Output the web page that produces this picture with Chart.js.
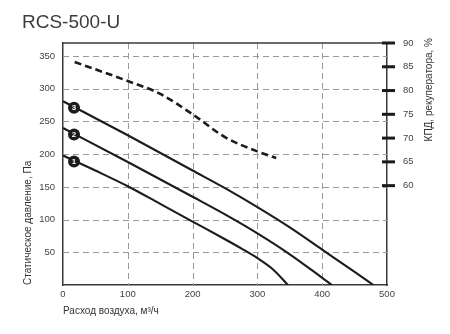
<!DOCTYPE html>
<html>
<head>
<meta charset="utf-8">
<script src="https://cdn.jsdelivr.net/npm/chart.js@4.4.1/dist/chart.umd.min.js"></script>
<style>
  html, body { margin: 0; padding: 0; background: #fff; }
</style>
</head>
<body>
<canvas id="chart" width="450" height="334"></canvas>
<script>
// Fan curves, RCS-500-U
const chartTitle = 'RCS-500-U';

const curve1Flow = [0, 50, 100, 150, 200, 250, 275, 300, 325, 347];
const curve1Pressure = [198, 175, 151, 124, 97, 70, 56, 41, 23, 0];
const curve2Flow = [0, 100, 200, 250, 300, 350, 400, 415];
const curve2Pressure = [240, 188, 135, 108, 79, 47, 11, 0];
const curve3Flow = [0, 100, 200, 250, 300, 350, 400, 450, 479];
const curve3Pressure = [281, 229, 175, 148, 119, 88, 54, 20, 0];

// recuperator efficiency, %
const efficiencyFlow = [18, 100, 150, 200, 250, 300, 329];
const efficiencyPct = [86, 82, 79.3, 75, 70.2, 67.2, 65.8];

// numbered markers on the curves
const curveNames = ['1', '2', '3'];
const markerFlow = [17, 17, 17];
const markerPressure = [189, 230, 271];

const flowTicks = [0, 100, 200, 300, 400, 500];
const pressureTicks = [0, 50, 100, 150, 200, 250, 300, 350];
const efficiencyTicks = [60, 65, 70, 75, 80, 85, 90];

const FONT = '"Liberation Sans", Arial, sans-serif';
const INK = '#1c1c1c';
const FRAME = '#3a3a3a';
const GRID = '#9a9a9a';

const toPoints = (xs, ys) => xs.map((x, i) => ({ x: x, y: ys[i] }));

const curveStyle = {
    borderColor: INK,
    borderWidth: 2.1,
    pointRadius: 0,
    fill: false,
    cubicInterpolationMode: 'monotone',
    order: 1
};

// dashed grid, drawn under the curves
const dashedGrid = {
    id: 'dashedGrid',
    beforeDatasetsDraw(chart) {
        const { ctx, chartArea: a, scales } = chart;
        ctx.save();
        ctx.strokeStyle = GRID;
        ctx.lineWidth = 1;
        ctx.setLineDash([6, 4]);
        scales.x.ticks.forEach(t => {
            if (t.value === 0 || t.value === 500) return;
            const x = Math.round(scales.x.getPixelForValue(t.value)) + 0.5;
            ctx.beginPath();
            ctx.moveTo(x, a.top);
            ctx.lineTo(x, a.bottom);
            ctx.stroke();
        });
        scales.y.ticks.forEach(t => {
            if (t.value === 0) return;
            const y = Math.round(scales.y.getPixelForValue(t.value)) + 0.5;
            ctx.beginPath();
            ctx.moveTo(a.left, y);
            ctx.lineTo(a.right, y);
            ctx.stroke();
        });
        ctx.restore();
    }
};

const decorations = {
    id: 'decorations',
    afterDraw(chart) {
        const { ctx, chartArea: a, scales } = chart;
        ctx.save();

        // top edge of the frame
        ctx.strokeStyle = FRAME;
        ctx.lineWidth = 1.5;
        ctx.beginPath();
        ctx.moveTo(a.left, a.top);
        ctx.lineTo(a.right, a.top);
        ctx.stroke();

        // thick marks on the efficiency axis
        ctx.fillStyle = INK;
        scales.y2.ticks.forEach(t => {
            const y = scales.y2.getPixelForValue(t.value);
            ctx.fillRect(a.right - 5, y - 1.5, 13, 3);
        });

        // numbers inside the markers
        const meta = chart.getDatasetMeta(4);
        ctx.fillStyle = '#fff';
        ctx.font = 'bold 8px ' + FONT;
        ctx.textAlign = 'center';
        ctx.textBaseline = 'middle';
        meta.data.forEach((p, i) => ctx.fillText(curveNames[i], p.x, p.y + 0.5));

        // title
        ctx.fillStyle = '#3c3c3c';
        ctx.font = '19px ' + FONT;
        ctx.textAlign = 'left';
        ctx.textBaseline = 'alphabetic';
        ctx.fillText(chartTitle, 22, 28);

        // right axis title, reads bottom to top
        ctx.fillStyle = '#333';
        ctx.font = '10px ' + FONT;
        ctx.translate(429, 38);
        ctx.rotate(-Math.PI / 2);
        ctx.textAlign = 'right';
        ctx.textBaseline = 'middle';
        ctx.fillText('КПД, рекуператора, %', 0, 0);

        ctx.restore();
    }
};

const ctx = document.getElementById('chart').getContext('2d');
new Chart(ctx, {
    type: 'line',
    data: {
        datasets: [
            Object.assign({ data: toPoints(curve1Flow, curve1Pressure) }, curveStyle),
            Object.assign({ data: toPoints(curve2Flow, curve2Pressure) }, curveStyle),
            Object.assign({ data: toPoints(curve3Flow, curve3Pressure) }, curveStyle),
            Object.assign({}, curveStyle, {
                data: toPoints(efficiencyFlow, efficiencyPct),
                yAxisID: 'y2',
                borderWidth: 2.6,
                borderDash: [7, 4]
            }),
            {
                data: toPoints(markerFlow, markerPressure),
                showLine: false,
                pointRadius: 6,
                pointBackgroundColor: INK,
                pointBorderColor: INK,
                pointBorderWidth: 0,
                order: 0
            }
        ]
    },
    options: {
        responsive: false,
        animation: false,
        layout: { padding: { top: 43 } },
        plugins: {
            legend: { display: false },
            tooltip: { enabled: false }
        },
        scales: {
            x: {
                type: 'linear',
                min: 0,
                max: 500,
                afterBuildTicks: s => { s.ticks = flowTicks.map(v => ({ value: v })); },
                afterFit: s => { s.height = 49; },
                ticks: { color: '#444', font: { family: FONT, size: 9.5 }, padding: 4 },
                grid: { display: false, drawTicks: false },
                border: { color: FRAME, width: 1.5 },
                title: {
                    display: true,
                    text: 'Расход воздуха, м³/ч',
                    align: 'start',
                    color: '#333',
                    font: { family: FONT, size: 10 },
                    padding: { top: 0, bottom: 17 }
                }
            },
            y: {
                position: 'left',
                min: 0,
                max: 370,
                afterBuildTicks: s => { s.ticks = pressureTicks.map(v => ({ value: v })); },
                afterFit: s => { s.width = 63; },
                ticks: {
                    color: '#444',
                    font: { family: FONT, size: 9.5 },
                    padding: 8,
                    callback: v => v === 0 ? '' : v
                },
                grid: { display: false, drawTicks: false },
                border: { color: FRAME, width: 1.5 },
                title: {
                    display: true,
                    text: 'Статическое давление, Па',
                    align: 'start',
                    color: '#333',
                    font: { family: FONT, size: 10 },
                    padding: { top: 22, bottom: 0 }
                }
            },
            y2: {
                position: 'right',
                min: 39.1,
                max: 90,
                afterBuildTicks: s => { s.ticks = efficiencyTicks.map(v => ({ value: v })); },
                afterFit: s => { s.width = 63; },
                ticks: { color: '#444', font: { family: FONT, size: 9.5 }, padding: 16 },
                grid: { drawOnChartArea: false, drawTicks: false },
                border: { color: FRAME, width: 1.5 }
            }
        }
    },
    plugins: [dashedGrid, decorations]
});
</script>
</body>
</html>
